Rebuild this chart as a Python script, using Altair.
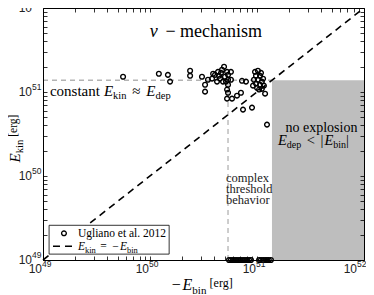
import altair as alt
import pandas as pd

# ---------------- data ----------------
# exploding models: -E_bin [erg] and E_kin [erg]
neg_ebin = [5.6e49, 1.21e50, 1.47e50, 1.54e50, 2.37e50, 2.37e50, 3.06e50, 3.27e50, 3.27e50,
            3.48e50, 3.80e50, 4.05e50, 4.32e50, 4.71e50, 4.92e50, 5.25e50, 5.02e50, 5.36e50, 5.36e50, 5.25e50,
            4.23e50, 4.51e50, 4.81e50, 5.36e50, 3.89e50, 4.41e50, 4.61e50, 5.13e50, 5.71e50, 5.71e50,
            5.25e50, 5.36e50, 5.84e50, 6.50e50, 7.08e50, 7.24e50, 7.89e50, 7.40e50, 8.98e50,
            9.58e50, 1.02e51, 1.09e51, 9.79e50, 1.067e51, 1.14e51, 9.37e50, 1.02e51, 1.11e51, 9.79e50,
            1.067e51, 1.16e51, 1.0e51, 9.18e50, 1.11e51, 1.045e51, 1.19e51, 1.24e51]
ekin = [1.52e51, 1.65e51, 1.60e51, 1.33e51, 1.79e51, 1.56e51, 1.52e51, 1.22e51, 1.01e51,
        1.40e51, 1.44e51, 1.60e51, 1.74e51, 1.84e51, 2.0e51, 1.74e51, 1.52e51, 1.40e51, 1.22e51, 1.07e51,
        1.33e51, 1.44e51, 1.33e51, 1.60e51, 1.65e51, 1.56e51, 1.69e51, 1.33e51, 1.74e51, 1.40e51,
        8.33e50, 9.8e50, 8.33e50, 9.04e50, 9.8e50, 1.36e51, 1.33e51, 6.17e50, 6.52e50,
        1.74e51, 1.79e51, 1.69e51, 1.56e51, 1.56e51, 1.44e51, 1.40e51, 1.40e51, 1.33e51, 1.26e51,
        1.22e51, 1.19e51, 1.12e51, 1.19e51, 1.09e51, 1.07e51, 9.55e50, 4.09e50]
# failed models, drawn on the lower edge
neg_ebin_failed = [5.47e50, 5.71e50, 5.97e50, 6.23e50, 6.50e50, 6.79e50, 7.08e50, 7.40e50, 7.72e50,
                   8.06e50, 8.42e50, 8.79e50, 1.045e51, 1.09e51, 1.14e51, 1.19e51, 1.24e51, 1.29e51, 1.35e51]
ekin_floor = 1e49

edep = 1.38e51        # constant deposited energy
threshold = 5.36e50   # start of complex threshold behaviour
lo, hi = 1e49, 1e52

decades = [1e49, 1e50, 1e51, 1e52]
exponents = ["49", "50", "51", "52"]
ticks = [m * 10.0 ** e for e in (49, 50, 51) for m in range(1, 10)] + [1e52]

# ---------------- styling ----------------
SERIF = "Liberation Serif"
SANS = "Liberation Sans"
W, H = 321, 252
xs = alt.Scale(type="log", domain=[lo, hi], nice=False)
ys = alt.Scale(type="log", domain=[lo, hi], nice=False)


def ax_main(orient):
    return alt.Axis(orient=orient, values=ticks, labels=False, ticks=False, tickSize=0,
                    domain=True, domainColor="black", domainWidth=1, grid=False, title=None, zindex=1)


def ax_ticks(orient, offset, domain):
    return alt.Axis(orient=orient, offset=offset, values=ticks, labels=False, ticks=True,
                    tickSize=4, tickColor="black", tickWidth=0.8, domain=domain,
                    domainColor="black", domainWidth=1, grid=False, title=None,
                    zindex=1 if domain else 0)


def X(axis=None):
    return alt.X("x:Q", scale=xs, axis=axis)


def Y(axis=None):
    return alt.Y("y:Q", scale=ys, axis=axis)


# ---------------- layers ----------------
rect = alt.Chart(pd.DataFrame({"x": [edep], "x2": [hi], "y": [lo], "y2": [edep]})).mark_rect(
    color="#bebebe").encode(x=X(ax_main("bottom")), x2="x2", y=Y(ax_main("left")), y2="y2")

guides = alt.Chart(pd.DataFrame({"x": [lo, threshold], "x2": [edep, threshold],
                                 "y": [edep, lo], "y2": [edep, edep]})).mark_rule(
    color="#b3b3b3", strokeWidth=1.3, strokeDash=[5, 4]).encode(x=X(), x2="x2", y=Y(), y2="y2")

diag = alt.Chart(pd.DataFrame({"x": [lo, hi], "y": [lo, hi]})).mark_line(
    color="black", strokeWidth=1.6, strokeDash=[7, 5]).encode(
    x=X(ax_ticks("top", -H, False)), y=Y(ax_ticks("right", -W, False)))

pts_df = pd.DataFrame({"x": neg_ebin + neg_ebin_failed,
                       "y": ekin + [ekin_floor] * len(neg_ebin_failed)})
pts = alt.Chart(pts_df).mark_point(shape="circle", filled=False, color="black",
                                   strokeWidth=1.4, size=22, opacity=1).encode(
    x=X(ax_ticks("bottom", -H, True)), y=Y(ax_ticks("left", -W, True)))

box = alt.Chart(pd.DataFrame({"x": [1.14e49], "x2": [1.51e50], "y": [1.175e49], "y2": [2.59e49]})).mark_rect(
    fill="white", stroke="black", strokeWidth=0.8).encode(x=X(), x2="x2", y=Y(), y2="y2")
leg_pt = alt.Chart(pd.DataFrame({"x": [1.57e49], "y": [2.08e49]})).mark_point(
    shape="circle", filled=False, color="black", strokeWidth=1.4, size=22, opacity=1).encode(x=X(), y=Y())
leg_line = alt.Chart(pd.DataFrame({"x": [1.24e49, 1.99e49], "y": [1.46e49, 1.46e49]})).mark_line(
    color="black", strokeWidth=1.6, strokeDash=[7, 5]).encode(x=X(), y=Y())

# tick labels 10^n drawn as base + raised exponent
n = len(decades)
xlab_df = pd.DataFrame({"x": decades, "y": [lo] * n, "base": ["10"] * n, "e": exponents})
ylab_df = pd.DataFrame({"x": [lo] * n, "y": decades, "base": ["10"] * n, "e": exponents})


def xlab(df, shift):
    return [
        alt.Chart(df).mark_text(align="right", baseline="alphabetic", font=SANS, fontSize=12,
                                color="#222", dx=-1 + shift, dy=13).encode(x=X(), y=Y(), text="base:N"),
        alt.Chart(df).mark_text(align="left", baseline="alphabetic", font=SANS, fontSize=8.5,
                                color="#222", dx=-1 + shift, dy=7).encode(x=X(), y=Y(), text="e:N"),
    ]


tick_labels = xlab(xlab_df.iloc[:-1], 0) + xlab(xlab_df.iloc[-1:], -6) + [
    alt.Chart(ylab_df).mark_text(align="right", baseline="alphabetic", font=SANS, fontSize=12,
                                 color="#222", dx=-11, dy=4).encode(x=X(), y=Y(), text="base:N"),
    alt.Chart(ylab_df).mark_text(align="left", baseline="alphabetic", font=SANS, fontSize=8.5,
                                 color="#222", dx=-11, dy=-2).encode(x=X(), y=Y(), text="e:N"),
]

# ---------------- text helpers ----------------
TW = {" ": .27, "c": .444, "o": .5, "n": .5, "s": .389, "t": .278, "a": .444, "E": .611, "k": .5,
      "i": .278, "d": .5, "e": .444, "p": .5, "b": .5, "≈": .78, "<": .78, "|": .28, "=": .78,
      "−": .78, "[": .333, "]": .333, "r": .333, "g": .5, "ν": .5, "m": .778, "h": .5}
REL = set("≈<=−")


def tw(s, size):
    return sum(TW.get(ch, .5) for ch in s) * size


def one(x, y, text, size, italic=False, dx=0, dy=0, angle=0, align="left", color="black"):
    return alt.Chart(pd.DataFrame({"x": [x], "y": [y], "t": [text]})).mark_text(
        align=align, baseline="alphabetic", font=SERIF, fontSize=size,
        fontStyle="italic" if italic else "normal", dx=dx, dy=dy, angle=angle, color=color).encode(
        x=X(), y=Y(), text="t:N")


def pieces(x, y, parts, base_dx=0, base_dy=0, angle=0, center=False):
    total = sum(tw(p[0], p[1]) for p in parts)
    off = -total / 2 if center else 0
    out = []
    for text, size, italic, shift in parts:
        s = text.strip()
        lead = len(text) - len(text.lstrip())
        r = off + lead * TW[" "] * size
        if s and s[0] in REL:
            r += 0.11 * size
        if s:
            out.append(one(x, y, s, size, italic, dx=base_dx + r, dy=base_dy + shift, angle=angle))
        off += tw(text, size)
    return out


texts = []
texts += pieces(3.41e50, 4.53e51, [("ν", 18, True, 0), (" − mechanism", 18, False, 0)], center=True)
texts += pieces(1.16e49, 9.04e50, [("constant ", 15, False, 0), ("E", 15, True, 0), ("kin", 10.5, False, 3.5),
                                   (" ≈ ", 15, False, 0), ("E", 15, True, 0), ("dep", 10.5, False, 3.5)])
texts.append(one(4.0e51, 3.38e50, "no explosion", 14, align="center"))
texts += pieces(1.57e51, 2.37e50, [("E", 14.5, True, 0), ("dep", 10, False, 3.5), (" < ", 14.5, False, 0),
                                   ("|", 14.5, False, 0), ("E", 14.5, True, 0), ("bin", 10, False, 3.5),
                                   ("|", 14.5, False, 0)])
texts.append(one(5.13e50, 8.4e49, "complex", 12.5, color="#222"))
texts.append(one(5.13e50, 6.2e49, "threshold", 12.5, color="#222"))
texts.append(one(5.13e50, 4.6e49, "behavior", 12.5, color="#222"))
texts.append(one(2.12e49, 1.87e49, "Ugliano et al. 2012", 11.5))
texts += pieces(2.12e49, 1.31e49, [("E", 11.5, True, 0), ("kin", 8.5, False, 3), (" = ", 11.5, False, 0),
                                   ("−", 11.5, False, 0), ("E", 11.5, True, 0), ("bin", 8.5, False, 3)])
# axis titles
texts += pieces(1.54e50, lo, [("−", 16, False, 0), ("E", 16, True, 0), ("bin", 11, False, 3.5),
                              (" [erg]", 12, False, -3)], base_dy=30)
texts += pieces(lo, 1.45e50, [("E", 15, True, 0), ("kin", 10.5, False, 3), (" [erg]", 11.5, False, -3)],
                base_dy=-23, angle=270)

chart = alt.layer(rect, guides, diag, pts, box, leg_line, leg_pt, *tick_labels, *texts).resolve_scale(
    x="shared", y="shared").resolve_axis(x="independent", y="independent").properties(
    width=W, height=H, padding={"left": 35, "top": 0, "right": 2, "bottom": 35},
    autosize=alt.AutoSizeParams(type="none")).configure_view(stroke=None)

chart.save("out.html", embed_options={"renderer": "svg", "actions": False})
